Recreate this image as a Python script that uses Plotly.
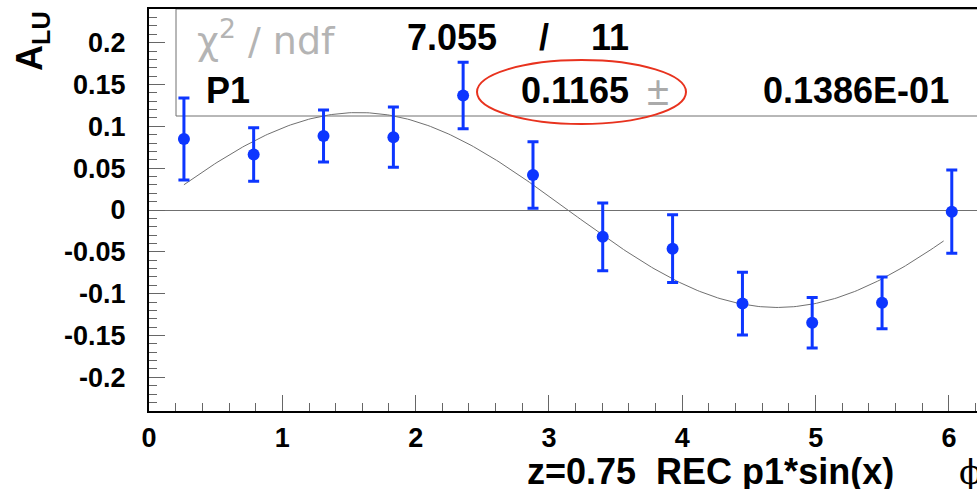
import numpy as np
import plotly.graph_objects as go

# ---- data ----
phi = [0.262, 0.785, 1.309, 1.833, 2.356, 2.880, 3.403, 3.927, 4.451, 4.974, 5.498, 6.021]
alu = [0.0849, 0.0664, 0.0885, 0.0870, 0.1368, 0.0418, -0.0320, -0.0462, -0.1118, -0.1348, -0.1110, -0.0020]
err = [0.0490, 0.0320, 0.0310, 0.0360, 0.0398, 0.0398, 0.0405, 0.0405, 0.0375, 0.0302, 0.0310, 0.0497]
p1 = 0.1165
p1_err_txt = "0.1386E-01"
chi2_txt = "7.055"
ndf_txt = "11"
fit_range = [0.262, 5.96]
ytick_vals = [-0.2, -0.15, -0.1, -0.05, 0, 0.05, 0.1, 0.15, 0.2]
ytick_text = ["-0.2", "-0.15", "-0.1", "-0.05", "0", "0.05", "0.1", "0.15", "0.2"]
xtick_vals = [0, 1, 2, 3, 4, 5, 6]
xtick_text = ["0", "1", "2", "3", "4", "5", "6"]

W, H = 977, 489
L, R, T, B = 149, 0, 9, 78
PW, PH = W - L - R, H - T - B


def px(xp):
    return (xp - L) / PW


def py(yp):
    return (H - B - yp) / PH


BLUE = "#0d36ff"
FONT = "Liberation Sans, Arial, Helvetica, sans-serif"

fig = go.Figure()

xf = np.linspace(fit_range[0], fit_range[1], 300)
fig.add_trace(go.Scatter(x=xf, y=p1 * np.sin(xf), mode="lines",
                         line=dict(color="#707070", width=1), hoverinfo="skip"))

fig.add_trace(go.Scatter(
    x=phi, y=alu, mode="markers",
    marker=dict(color=BLUE, size=12),
    error_y=dict(type="data", array=err, visible=True, color=BLUE,
                 thickness=3, width=5.5),
))

fig.update_layout(
    width=W, height=H,
    margin=dict(l=L, r=R, t=T, b=B, autoexpand=False),
    paper_bgcolor="white", plot_bgcolor="white",
    showlegend=False,
    font=dict(family=FONT, color="black"),
    xaxis=dict(
        range=[0, PW / 133.33], showgrid=False, zeroline=False,
        showline=True, linecolor="black", linewidth=2, mirror=True,
        ticks="inside", ticklen=16, tickwidth=1, tickcolor="#666",
        tickvals=xtick_vals, ticktext=xtick_text,
        tickfont=dict(size=27, family=FONT, weight="bold", color="black"),
        ticklabelstandoff=2,
        minor=dict(dtick=0.2, tick0=0, ticks="inside", ticklen=8, tickwidth=1, tickcolor="#666"),
    ),
    yaxis=dict(
        range=[-0.2403, 0.2403], showgrid=False,
        zeroline=True, zerolinecolor="#707070", zerolinewidth=1,
        showline=True, linecolor="black", linewidth=2, mirror=False,
        ticks="inside", ticklen=16, tickwidth=1, tickcolor="#666",
        tickvals=ytick_vals, ticktext=ytick_text,
        tickfont=dict(size=27, family=FONT, weight="bold", color="black"),
        ticklabelstandoff=16,
        minor=dict(dtick=0.01, tick0=0, ticks="inside", ticklen=8, tickwidth=1, tickcolor="#666"),
    ),
)

# stat box
fig.add_shape(type="rect", xref="paper", yref="paper",
              x0=px(176), x1=px(1010), y0=py(116), y1=py(9),
              line=dict(color="#707070", width=1), fillcolor="rgba(0,0,0,0)", layer="below")
# red ellipse
fig.add_shape(type="circle", xref="paper", yref="paper",
              x0=px(477), x1=px(686), y0=py(124), y1=py(60),
              line=dict(color="#e8321e", width=2))


def ann(text, x, y, size=36, color="black", bold=True, xanchor="center", family=FONT, angle=0):
    fig.add_annotation(text=text, xref="paper", yref="paper", x=px(x), y=py(y),
                       xanchor=xanchor, yanchor="middle", showarrow=False, textangle=angle,
                       font=dict(size=size, color=color, family=family,
                                 weight="bold" if bold else "normal"))


ann("χ<sup>2</sup> / ndf", 266, 38, size=38, color="#b4b4b4", bold=False,
    family="DejaVu Sans ExtraLight, DejaVu Sans, sans-serif")
ann(chi2_txt, 452, 37)
ann("/", 544, 37)
ann(ndf_txt, 610, 37)
ann("P1", 204, 90, xanchor="left")
ann(f"{p1:.4f}", 575, 90)
ann("±", 658, 91, size=40, color="#aaaaaa", bold=False)
ann(p1_err_txt, 856, 90)

# axis titles
ann("A<sub>LU</sub>", 32, 41, size=36, angle=-90)
ann("z=0.75  REC p1*sin(x)", 710, 471, size=36)
ann("ϕ", 970, 472, size=34, bold=False, family="DejaVu Serif, Liberation Serif, serif")

fig.write_html("out.html")
